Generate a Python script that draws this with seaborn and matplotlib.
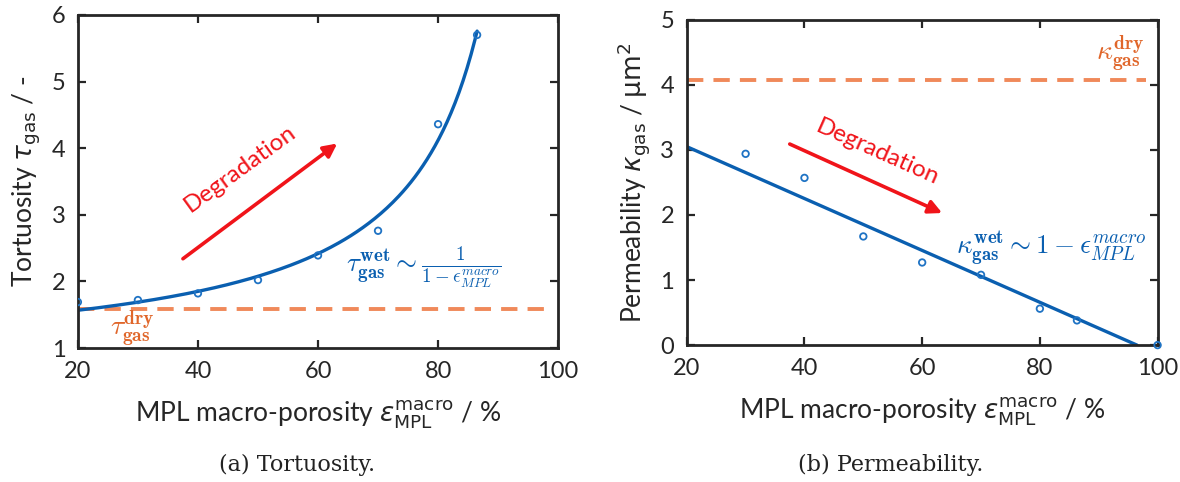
import numpy as np
import pandas as pd
import matplotlib
matplotlib.use("Agg")
import matplotlib.pyplot as plt
import seaborn as sns

# --- data ---
tort_eps = [20, 30, 40, 50, 60, 70, 80, 86.5]
tort_vals = [1.69, 1.72, 1.82, 2.02, 2.39, 2.76, 4.36, 5.70]
tort_dry = 1.58

perm_eps = [30, 40, 50, 60, 70, 80, 86.3, 100]
perm_vals = [2.94, 2.57, 1.67, 1.27, 1.08, 0.56, 0.38, 0.0]
perm_dry = 4.07
perm_fit_eps = [20, 96.5]
perm_fit_vals = [3.05, 0.0]

dry_span = [20, 98]
x_ticks = [20, 40, 60, 80, 100]

blue = "#0a5fb0"
blue_pts = "#1f73c4"
orange = "#f0895a"
orange_txt = "#e0662a"
red = "#f0141a"
dark = "#262626"

sns.set_theme(style="ticks")
plt.rcParams["font.family"] = ["Lato", "DejaVu Sans"]
plt.rcParams["mathtext.fontset"] = "dejavusans"

fig = plt.figure(figsize=(11.8, 4.82), dpi=100)
ax1 = fig.add_axes([0.066, 0.278, 0.407, 0.691])
ax2 = fig.add_axes([0.582, 0.284, 0.399, 0.675])

# tortuosity fit: tau ~ a / (1 - eps) + b, least squares on the points
e = np.array(tort_eps) / 100
a, b = np.polyfit(1 / (1 - e), tort_vals, 1)
curve = pd.DataFrame({"eps": np.linspace(tort_eps[0], tort_eps[-1], 200)})
curve["tau"] = a / (1 - curve["eps"] / 100) + b

tort = pd.DataFrame({"eps": tort_eps, "tau": tort_vals})
perm = pd.DataFrame({"eps": perm_eps, "kappa": perm_vals})
perm_fit = pd.DataFrame({"eps": perm_fit_eps, "kappa": perm_fit_vals})

# (a) tortuosity
ax1.plot(dry_span, [tort_dry, tort_dry], color=orange, lw=2.8,
         dashes=(4.2, 2.6), zorder=1)
sns.lineplot(data=curve, x="eps", y="tau", ax=ax1, color=blue, lw=2.4, zorder=2)
sns.scatterplot(data=tort, x="eps", y="tau", ax=ax1, marker="o", s=22,
                facecolor="none", edgecolor=blue_pts, linewidth=1.3, zorder=3)
ax1.set_xlim(20, 100)
ax1.set_ylim(1, 6)
ax1.set_yticks([1, 2, 3, 4, 5, 6])
ax1.set_ylabel(r"Tortuosity $\tau_{\mathrm{gas}}$ / -", fontsize=19, labelpad=6)

ax1.annotate("", xy=(63.2, 4.07), xytext=(37.5, 2.34),
             arrowprops=dict(arrowstyle="-|>", color=red, lw=2.6,
                             mutation_scale=20, shrinkA=0, shrinkB=0))
ax1.text(47.0, 3.70, "Degradation", color=red, fontsize=17.5, rotation=36,
         ha="center", va="center", rotation_mode="anchor")
ax1.text(77.6, 2.2, r"$\tau_{\mathbf{gas}}^{\mathbf{wet}}\sim\frac{1}{1-\epsilon_{MPL}^{macro}}$",
         color=blue, fontsize=19.5, ha="center", va="center", math_fontfamily="cm")
ax1.text(29.0, 1.29, r"$\tau_{\mathbf{gas}}^{\mathbf{dry}}$", color=orange_txt,
         fontsize=20, ha="center", va="center", math_fontfamily="cm")

# (b) permeability
ax2.plot(dry_span, [perm_dry, perm_dry], color=orange, lw=2.8,
         dashes=(4.2, 2.6), zorder=1)
sns.lineplot(data=perm_fit, x="eps", y="kappa", ax=ax2, color=blue, lw=2.4, zorder=2)
sns.scatterplot(data=perm, x="eps", y="kappa", ax=ax2, marker="o", s=22,
                facecolor="none", edgecolor=blue_pts, linewidth=1.3, zorder=3,
                clip_on=False)
ax2.set_xlim(20, 100)
ax2.set_ylim(0, 5)
ax2.set_yticks([0, 1, 2, 3, 4, 5])
ax2.set_ylabel(r"Permeability $\kappa_{\mathrm{gas}}$ / $\mathrm{\mu m}^2$",
               fontsize=19, labelpad=6)

ax2.annotate("", xy=(63.4, 2.03), xytext=(37.5, 3.09),
             arrowprops=dict(arrowstyle="-|>", color=red, lw=2.6,
                             mutation_scale=20, shrinkA=0, shrinkB=0))
ax2.text(52.4, 2.97, "Degradation", color=red, fontsize=17.5, rotation=-24,
         ha="center", va="center", rotation_mode="anchor")
ax2.text(82.0, 1.49, r"$\kappa_{\mathbf{gas}}^{\mathbf{wet}}\sim 1-\epsilon_{MPL}^{macro}$",
         color=blue, fontsize=19.5, ha="center", va="center", math_fontfamily="cm")
ax2.text(93.7, 4.49, r"$\kappa_{\mathbf{gas}}^{\mathbf{dry}}$", color=orange_txt,
         fontsize=20, ha="center", va="center", math_fontfamily="cm")

for ax in (ax1, ax2):
    ax.set_xticks(x_ticks)
    ax.set_xlabel(r"MPL macro-porosity $\epsilon_{\mathrm{MPL}}^{\mathrm{macro}}$ / %",
                  fontsize=19, labelpad=12)
    ax.tick_params(direction="in", top=True, right=True, length=6, width=1.6,
                   labelsize=17, colors=dark, pad=9)
    for sp in ax.spines.values():
        sp.set_visible(True)
        sp.set_linewidth(2.0)
        sp.set_color(dark)
    ax.xaxis.label.set_color(dark)
    ax.yaxis.label.set_color(dark)

fig.text(0.252, 0.036, "(a) Tortuosity.", fontsize=16, family="DejaVu Serif",
         ha="center", va="center", color="#222222")
fig.text(0.755, 0.036, "(b) Permeability.", fontsize=16, family="DejaVu Serif",
         ha="center", va="center", color="#222222")

fig.savefig("out.png", dpi=100)
